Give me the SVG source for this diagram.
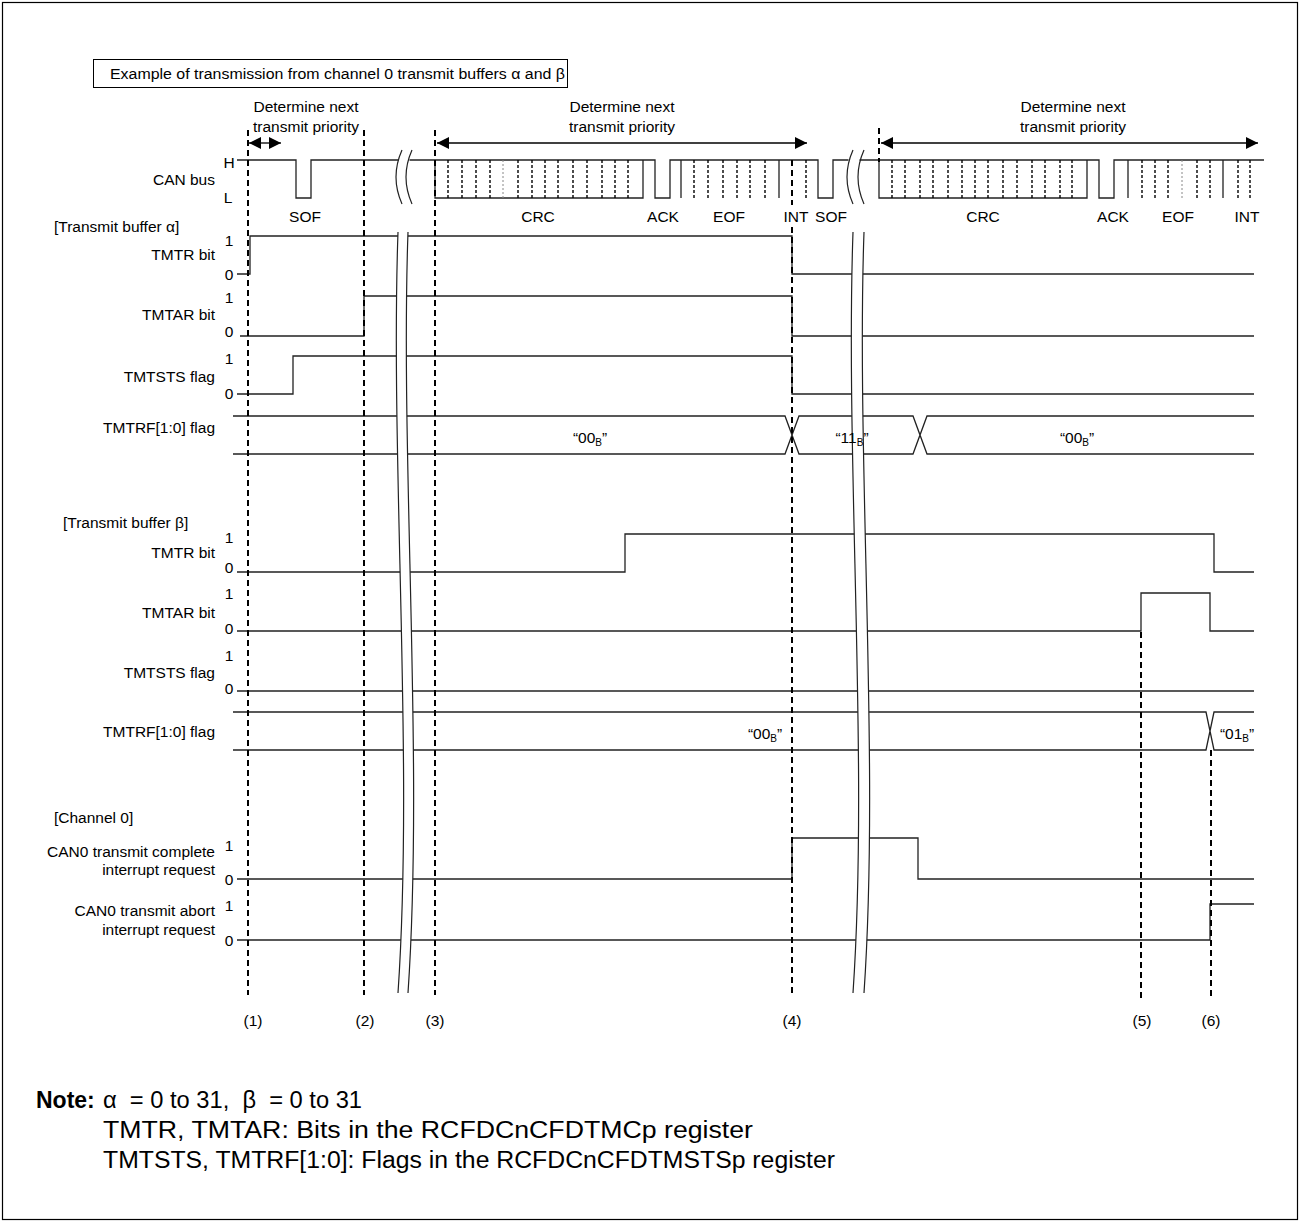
<svg xmlns="http://www.w3.org/2000/svg" width="1301" height="1223" viewBox="0 0 1301 1223">
<defs>
<style>
.t{font-family:"Liberation Sans",Arial,sans-serif;font-size:15.5px;fill:#000}
.m{text-anchor:middle}
.e{text-anchor:end}
.sig{fill:none;stroke:#222;stroke-width:1.3}
.dash{fill:none;stroke:#000;stroke-width:2;stroke-dasharray:6 4}
.dot{fill:none;stroke:#000;stroke-width:1.4;stroke-dasharray:3 2}
.dotl{fill:none;stroke:#888;stroke-width:1;stroke-dasharray:2 2}
.brk{fill:none;stroke:#222;stroke-width:1.2}
.note{font-family:"Liberation Sans",Arial,sans-serif;font-size:23px;fill:#000}
</style>
<marker id="ah" viewBox="0 0 10 10" refX="10" refY="5" markerWidth="12" markerHeight="12" markerUnits="userSpaceOnUse" orient="auto-start-reverse"><path d="M0,0 L10,5 L0,10 z" fill="#000"/></marker>
</defs>
<rect x="0" y="0" width="1301" height="1223" fill="#fff"/>
<rect id="frame" x="2.5" y="2.5" width="1295" height="1217" fill="none" stroke="#000" stroke-width="1.2"/>

<g id="title">
<rect x="93.5" y="59.5" width="474" height="28" fill="none" stroke="#000" stroke-width="1"/>
<text class="t" x="110" y="79" font-size="14.5" textLength="455" lengthAdjust="spacingAndGlyphs">Example of transmission from channel 0 transmit buffers α and β</text>
</g>

<g id="priority-labels">
<text class="t m" x="306" y="112">Determine next</text>
<text class="t m" x="306" y="132">transmit priority</text>
<text class="t m" x="622" y="112">Determine next</text>
<text class="t m" x="622" y="132">transmit priority</text>
<text class="t m" x="1073" y="112">Determine next</text>
<text class="t m" x="1073" y="132">transmit priority</text>
</g>

<g id="connectors">
<line x1="249" y1="143" x2="281" y2="143" stroke="#000" stroke-width="1.3" marker-start="url(#ah)" marker-end="url(#ah)"/>
<line x1="437" y1="143" x2="807" y2="143" stroke="#000" stroke-width="1.3" marker-start="url(#ah)" marker-end="url(#ah)"/>
<line x1="881" y1="143" x2="1258" y2="143" stroke="#000" stroke-width="1.3" marker-start="url(#ah)" marker-end="url(#ah)"/>
</g>

<g id="can-bus">
<text class="t e" x="215" y="185">CAN bus</text>
<text class="t m" x="229" y="168">H</text>
<text class="t m" x="228" y="203">L</text>
<path class="sig" d="M237,160 H296 V198 H311 V160 H398.5 M409.5,160 H655 V198 H670 V160 H818 V198 H833 V160 H848.5 M859.5,160 H1099 V198 H1114 V160 H1264"/>
<path class="sig" d="M435,160 V198 H643 V160 M879,160 V198 H1087 V160 M681,160 V198 M779,160 V198 M1128,160 V198 M1223,160 V198"/>
<path class="dot" d="M448,160V198M462,160V198M476,160V198M490,160V198M518,160V198M532,160V198M545,160V198M558,160V198M573,160V198M587,160V198M602,160V198M615,160V198M628,160V198M694,160V198M708,160V198M723,160V198M737,160V198M750,160V198M765,160V198M806,160V198"/>
<path class="dot" d="M892,160V198M905,160V198M920,160V198M933,160V198M948,160V198M962,160V198M975,160V198M988,160V198M1003,160V198M1017,160V198M1032,160V198M1045,160V198M1060,160V198M1072,160V198M1142,160V198M1155,160V198M1168,160V198M1197,160V198M1210,160V198M1238,160V198M1250,160V198"/>
<path class="dotl" d="M503,160V198M1182,160V198"/>
<path class="brk" d="M402,150 Q390,177 402,204 M412,150 Q400,177 412,204 M853,150 Q841,177 853,204 M864,150 Q852,177 864,204"/>
<text class="t m" x="305" y="222">SOF</text>
<text class="t m" x="538" y="222">CRC</text>
<text class="t m" x="663" y="222">ACK</text>
<text class="t m" x="729" y="222">EOF</text>
<text class="t m" x="796" y="222">INT</text>
<text class="t m" x="831" y="222">SOF</text>
<text class="t m" x="983" y="222">CRC</text>
<text class="t m" x="1113" y="222">ACK</text>
<text class="t m" x="1178" y="222">EOF</text>
<text class="t m" x="1247" y="222">INT</text>
</g>

<g id="buffer-alpha">
<text class="t" x="54" y="232">[Transmit buffer α]</text>
<g id="alpha-tmtr">
<text class="t e" x="215" y="260">TMTR bit</text>
<text class="t m" x="229" y="245.5">1</text>
<text class="t m" x="229" y="279.5">0</text>
<path class="sig" d="M237,274 H250 V236 H792 V274 H1254"/>
</g>
<g id="alpha-tmtar">
<text class="t e" x="215" y="320">TMTAR bit</text>
<text class="t m" x="229" y="302.5">1</text>
<text class="t m" x="229" y="336.5">0</text>
<path class="sig" d="M240,336 H364 V296 H792 V336 H1254"/>
</g>
<g id="alpha-tmtsts">
<text class="t e" x="215" y="382">TMTSTS flag</text>
<text class="t m" x="229" y="363.5">1</text>
<text class="t m" x="229" y="398.5">0</text>
<path class="sig" d="M237,394 H293 V356 H792 V394 H1254"/>
</g>
<g id="alpha-tmtrf">
<text class="t e" x="215" y="433">TMTRF[1:0] flag</text>
<path class="sig" d="M233,416 H785 L799,454 H913 L927,416 H1254 M233,454 H785 L799,416 H913 L927,454 H1254"/>
<text class="t m" x="590" y="443">“00<tspan font-size="10" dy="3">B</tspan><tspan dy="-3">”</tspan></text>
<text class="t m" x="1077" y="443">“00<tspan font-size="10" dy="3">B</tspan><tspan dy="-3">”</tspan></text>
</g>
</g>

<g id="buffer-beta">
<text class="t" x="63" y="528">[Transmit buffer β]</text>
<g id="beta-tmtr">
<text class="t e" x="215" y="558">TMTR bit</text>
<text class="t m" x="229" y="542.5">1</text>
<text class="t m" x="229" y="572.5">0</text>
<path class="sig" d="M237,572 H625 V534 H1214 V572 H1254"/>
</g>
<g id="beta-tmtar">
<text class="t e" x="215" y="618">TMTAR bit</text>
<text class="t m" x="229" y="598.5">1</text>
<text class="t m" x="229" y="633.5">0</text>
<path class="sig" d="M237,631 H1141 V593 H1210 V631 H1254"/>
</g>
<g id="beta-tmtsts">
<text class="t e" x="215" y="678">TMTSTS flag</text>
<text class="t m" x="229" y="660.5">1</text>
<text class="t m" x="229" y="693.5">0</text>
<path class="sig" d="M237,691 H1254"/>
</g>
<g id="beta-tmtrf">
<text class="t e" x="215" y="737">TMTRF[1:0] flag</text>
<path class="sig" d="M233,712 H1206 L1214,750 H1254 M233,750 H1206 L1214,712 H1254"/>
<text class="t m" x="765" y="739">“00<tspan font-size="10" dy="3">B</tspan><tspan dy="-3">”</tspan></text>
<text class="t m" x="1237" y="739">“01<tspan font-size="10" dy="3">B</tspan><tspan dy="-3">”</tspan></text>
</g>
</g>

<g id="channel0">
<text class="t" x="54" y="823">[Channel 0]</text>
<g id="ch0-complete">
<text class="t e" x="215" y="857">CAN0 transmit complete</text>
<text class="t e" x="215" y="875">interrupt request</text>
<text class="t m" x="229" y="850.5">1</text>
<text class="t m" x="229" y="884.5">0</text>
<path class="sig" d="M237,879 H792 V838 H918 V879 H1254"/>
</g>
<g id="ch0-abort">
<text class="t e" x="215" y="916">CAN0 transmit abort</text>
<text class="t e" x="215" y="935">interrupt request</text>
<text class="t m" x="229" y="910.5">1</text>
<text class="t m" x="229" y="945.5">0</text>
<path class="sig" d="M237,940 H1210 V904 H1254"/>
</g>
</g>

<g id="breaks">
<path d="M398,232 C390,460 414,760 398,993 L408,993 C424,760 400,460 408,232 Z" fill="#fff"/>
<path class="brk" d="M398,232 C390,460 414,760 398,993 M408,232 C400,460 424,760 408,993"/>
<path d="M853,232 C845,460 869,760 853,993 L864,993 C880,760 856,460 864,232 Z" fill="#fff"/>
<path class="brk" d="M853,232 C845,460 869,760 853,993 M864,232 C856,460 880,760 864,993"/>
<text class="t m" x="852" y="443">“11<tspan font-size="10" dy="3">B</tspan><tspan dy="-3">”</tspan></text>
</g>

<g id="timing-markers">
<path class="dash" d="M248,130 V995 M364,130 V995 M435,130 V995 M792,160 V205 M792,227 V995 M1141,632 V1000 M1211,750 V1000 M879,128 V162"/>
<text class="t m" x="253" y="1026">(1)</text>
<text class="t m" x="365" y="1026">(2)</text>
<text class="t m" x="435" y="1026">(3)</text>
<text class="t m" x="792" y="1026">(4)</text>
<text class="t m" x="1142" y="1026">(5)</text>
<text class="t m" x="1211" y="1026">(6)</text>
</g>

<g id="note">
<text class="note" x="36" y="1108" font-weight="bold">Note:</text>
<text class="note" x="103" y="1108" xml:space="preserve" textLength="259" lengthAdjust="spacingAndGlyphs">α  = 0 to 31,  β  = 0 to 31</text>
<text class="note" x="103" y="1138" textLength="650" lengthAdjust="spacingAndGlyphs">TMTR, TMTAR: Bits in the RCFDCnCFDTMCp register</text>
<text class="note" x="103" y="1168" textLength="732" lengthAdjust="spacingAndGlyphs">TMTSTS, TMTRF[1:0]: Flags in the RCFDCnCFDTMSTSp register</text>
</g>
</svg>
